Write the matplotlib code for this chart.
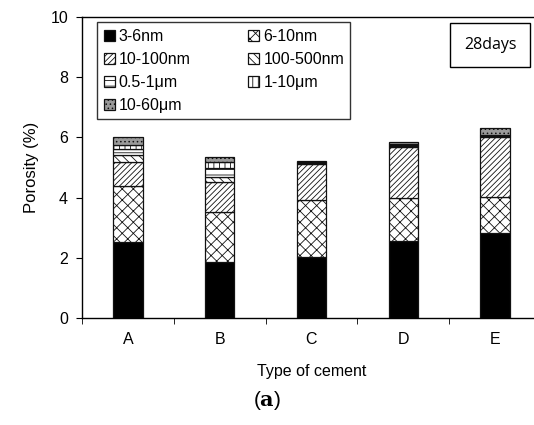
import matplotlib
matplotlib.use("Agg")
import matplotlib.pyplot as plt
import numpy as np

plt.rcParams["font.family"] = ["Liberation Sans", "DejaVu Sans"]
plt.rcParams["mathtext.fontset"] = "dejavuserif"
plt.rcParams["hatch.linewidth"] = 0.6

cements = ["A", "B", "C", "D", "E"]
sizes = ["3-6nm", "6-10nm", "10-100nm", "100-500nm", "0.5-1μm", "1-10μm", "10-60μm"]

# porosity (%) per pore size class, one value per cement type
p_3_6nm = [2.53, 1.87, 2.04, 2.56, 2.83]
p_6_10nm = [1.85, 1.66, 1.87, 1.42, 1.20]
p_10_100nm = [0.80, 0.98, 1.21, 1.70, 1.98]
p_100_500nm = [0.22, 0.18, 0.03, 0.05, 0.04]
p_05_1um = [0.22, 0.30, 0.01, 0.03, 0.02]
p_1_10um = [0.13, 0.18, 0.01, 0.02, 0.02]
p_10_60um = [0.27, 0.18, 0.05, 0.07, 0.22]

layers = [p_3_6nm, p_6_10nm, p_10_100nm, p_100_500nm, p_05_1um, p_1_10um, p_10_60um]
faces = ["black", "white", "white", "white", "white", "white", "#9a9a9a"]
hatches = [None, "xxx", "//////", "\\\\\\\\", "---", "|||", "...."]

fig = plt.figure(figsize=(5.34, 4.25), dpi=100)
ax = fig.add_axes([82 / 534, 1 - 318 / 425, 459 / 534, 301 / 425])

x = np.arange(len(cements))
bottom = np.zeros(len(cements))
bars = []
for vals, lab, fc, h in zip(layers, sizes, faces, hatches):
    b = ax.bar(x, vals, width=0.32, bottom=bottom, color=fc, hatch=h,
               edgecolor="#111111", linewidth=0.9, label=lab)
    bars.append(b)
    bottom += np.array(vals)

ax.set_xlim(-0.5, len(cements) - 0.5)
ax.set_ylim(0, 10)
ax.set_yticks([0, 2, 4, 6, 8, 10])
ax.set_xticks(x)
ax.set_xticklabels(cements)
ax.set_xticks(np.arange(-0.5, len(cements), 1), minor=True)
ax.tick_params(axis="x", which="major", length=0, pad=10, labelsize=11.5)
ax.tick_params(axis="x", which="minor", length=4, direction="out")
ax.tick_params(axis="y", length=4, direction="out", labelsize=11.5, pad=6)
for s in ax.spines.values():
    s.set_linewidth(1.0)

ax.set_ylabel("Porosity (%)", fontsize=12, labelpad=8)
ax.set_xlabel("Type of cement", fontsize=11.5, labelpad=12)

# legend reads row by row, two entries per row
order = [0, 2, 4, 6, 1, 3, 5]
leg = ax.legend([bars[i] for i in order], [sizes[i] for i in order],
                ncol=2, loc="upper left", bbox_to_anchor=(0.033, 0.982),
                fontsize=11.5, frameon=True, fancybox=False, edgecolor="black",
                handlelength=0.7, handleheight=0.7, handletextpad=0.25,
                columnspacing=3.6, labelspacing=0.5, borderpad=0.4,
                borderaxespad=0)
leg.get_frame().set_linewidth(1.0)

ax.text(0.889, 0.907, "28days", transform=ax.transAxes, ha="center", va="center",
        fontsize=11.5, fontfamily="Open Sans",
        bbox=dict(boxstyle="square,pad=0.85", fc="white", ec="black", lw=1.0))

fig.text(0.5, 1 - 401 / 425, r"($\mathbf{a}$)", ha="center", va="center",
         fontsize=15)

fig.savefig("out.png", dpi=100)
